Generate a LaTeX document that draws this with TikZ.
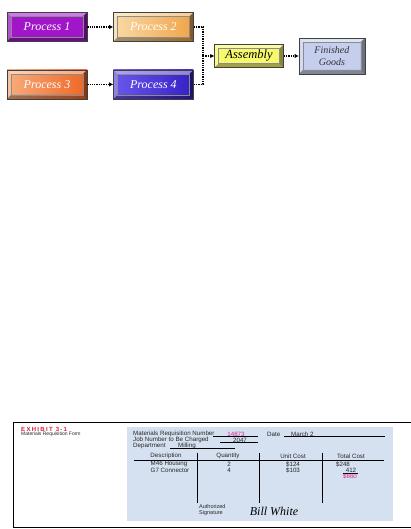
\documentclass[tikz,border=0pt]{standalone}
\usepackage{fontspec}
\setmainfont{Liberation Serif}
\setsansfont{Liberation Sans}
\newfontfamily\exhibitfont[LetterSpace=22]{Liberation Sans}
\usepackage{xcolor}
\usetikzlibrary{positioning}
\usetikzlibrary{arrows.meta}

\definecolor{procA}{HTML}{A016C8}
\definecolor{procBl}{HTML}{F9DAA6}
\definecolor{procBr}{HTML}{F0A447}
\definecolor{procCl}{HTML}{F8AC7C}
\definecolor{procCr}{HTML}{EE6624}
\definecolor{procDl}{HTML}{6A58EC}
\definecolor{procDr}{HTML}{3420C4}
\definecolor{asmyellow}{HTML}{F8F86C}
\definecolor{goodsblue}{HTML}{C6CEEE}
\definecolor{formblue}{HTML}{D5E1F1}
\definecolor{exhred}{HTML}{D0203C}
\definecolor{inkpink}{HTML}{E0208C}

\begin{document}
\begin{tikzpicture}[
    x=1pt, y=-1pt,
    node distance=26pt,
    bevel/.style={draw=black!75, line width=0.4pt, inner sep=0pt,
                  minimum width=80pt, minimum height=29pt, align=center,
                  font=\itshape\fontsize{12}{13}\selectfont, text=white,
                  path picture={
                    \coordinate (nw) at (path picture bounding box.north west);
                    \coordinate (ne) at (path picture bounding box.north east);
                    \coordinate (sw) at (path picture bounding box.south west);
                    \coordinate (se) at (path picture bounding box.south east);
                    \fill[white, opacity=.45] (nw) -- (ne) -- ([xshift=-4pt,yshift=-4pt]ne) -- ([xshift=4pt,yshift=-4pt]nw) -- cycle;
                    \fill[white, opacity=.25] (nw) -- (sw) -- ([xshift=4pt,yshift=4pt]sw) -- ([xshift=4pt,yshift=-4pt]nw) -- cycle;
                    \fill[black, opacity=.35] (sw) -- (se) -- ([xshift=-4pt,yshift=4pt]se) -- ([xshift=4pt,yshift=4pt]sw) -- cycle;
                    \fill[black, opacity=.45] (ne) -- (se) -- ([xshift=-4pt,yshift=4pt]se) -- ([xshift=-4pt,yshift=-4pt]ne) -- cycle;
                    \draw[black!45, line width=0.3pt] ([xshift=4pt,yshift=-4pt]nw) rectangle ([xshift=-4pt,yshift=4pt]se);
                  }},
    flow/.style={densely dotted, line width=1.3pt, -{Latex[length=4pt,width=4.5pt]}},
    link/.style={densely dotted, line width=1.3pt},
    formtxt/.style={font=\sffamily\fontsize{6.2}{6.5}\selectfont, inner sep=0pt, text=black!85},
    rule/.style={line width=0.6pt},
    >=stealth
  ]
    \useasboundingbox (0,0) rectangle (411,529);

    % Process row
    \node[bevel, fill=procA] (p1) at (47,27) {Process 1};
    \node[bevel, left color=procBl, right color=procBr, right=26pt of p1] (p2) {Process 2};
    \node[bevel, left color=procCl, right color=procCr, below=28pt of p1] (p3) {Process 3};
    \node[bevel, left color=procDl, right color=procDr, right=26pt of p3] (p4) {Process 4};

    % Assembly and output
    \coordinate (junc) at (203,56);
    \node[bevel, fill=asmyellow, text=black, minimum width=69pt, minimum height=23pt,
          font=\itshape\fontsize{12.5}{13}\selectfont] (asm) at (249,56) {Assembly};
    \node[bevel, fill=goodsblue, text=black!80, minimum width=66pt, minimum height=36pt,
          font=\itshape\fontsize{10}{12}\selectfont, right=15pt of asm] (goods) {Finished\\Goods};

    % Connectors
    \draw[flow] (p1) -- (p2);
    \draw[flow] (p3) -- (p4);
    \draw[link] (p2.east) -| (junc);
    \draw[link] (p4.east) -| (junc);
    \draw[flow] (junc) -- (asm);
    \draw[flow] (asm) -- (goods);

    % Exhibit frame and form panel
    \draw[line width=0.8pt] (411,422) -- (13,422) -- (13,527) -- (411,527);
    \fill[formblue] (127,427) rectangle (393,521);
    \node[anchor=west, inner sep=0pt, text=exhred, font=\exhibitfont\bfseries\fontsize{6}{6}\selectfont] (exh) at (21,429) {EXHIBIT 3-1};
    \node[formtxt, anchor=west, font=\sffamily\fontsize{5}{5}\selectfont] (exhcap) at (21,434.5) {Materials Requisition Form};

    % Form heading
    \node[formtxt, anchor=west] (reqlbl) at (133,434) {Materials Requisition Number};
    \draw[rule] (213,436.5) -- (258,436.5);
    \node[formtxt, text=inkpink] (reqno) at (236,434) {14873};
    \node[formtxt, anchor=west] (datelbl) at (267,434) {Date};
    \draw[rule] (284,436.5) -- (385,436.5);
    \node[formtxt, anchor=west] (date) at (291,434) {March 2};
    \node[formtxt, anchor=west] (joblbl) at (133,440) {Job Number to Be Charged};
    \draw[rule] (220,442.5) -- (258,442.5);
    \node[formtxt] (jobno) at (240,440) {2047};
    \node[formtxt, anchor=west] (deptlbl) at (133,446) {Department};
    \draw[rule] (170,448.5) -- (235,448.5);
    \node[formtxt, anchor=west] (dept) at (178,446) {Milling};

    % Table
    \node[formtxt] (hdesc) at (166,456) {Description};
    \node[formtxt] (hqty) at (228,456) {Quantity};
    \node[formtxt] (hunit) at (293,456) {Unit Cost};
    \node[formtxt] (htotal) at (351,456) {Total Cost};
    \draw[rule] (134,460) -- (384,460);
    \foreach \xcol in {197,259,322}
      \draw[rule] (\xcol,453) -- (\xcol,503);

    \node[formtxt] (d1) at (169,464) {M46 Housing};
    \node[formtxt] (q1) at (229,464) {2};
    \node[formtxt] (u1) at (293,464) {\$124};
    \node[formtxt] (t1) at (343,464) {\$248};
    \node[formtxt] (d2) at (170,470) {G7 Connector};
    \node[formtxt] (q2) at (229,470) {4};
    \node[formtxt] (u2) at (293,470) {\$103};
    \node[formtxt] (t2) at (351,470) {412};
    \draw[rule] (343,473) -- (358,473);
    \node[formtxt, text=inkpink] (tsum) at (350,476.5) {\$660};

    % Signature
    \node[formtxt, anchor=west, font=\sffamily\fontsize{5.5}{6}\selectfont] (auth) at (199,507) {Authorized};
    \node[formtxt, anchor=west, font=\sffamily\fontsize{5.5}{6}\selectfont] (sign) at (199,513) {Signature};
    \node[inner sep=0pt, font=\itshape\fontsize{12}{12}\selectfont] (name) at (274,511) {Bill White};
\end{tikzpicture}
\end{document}
